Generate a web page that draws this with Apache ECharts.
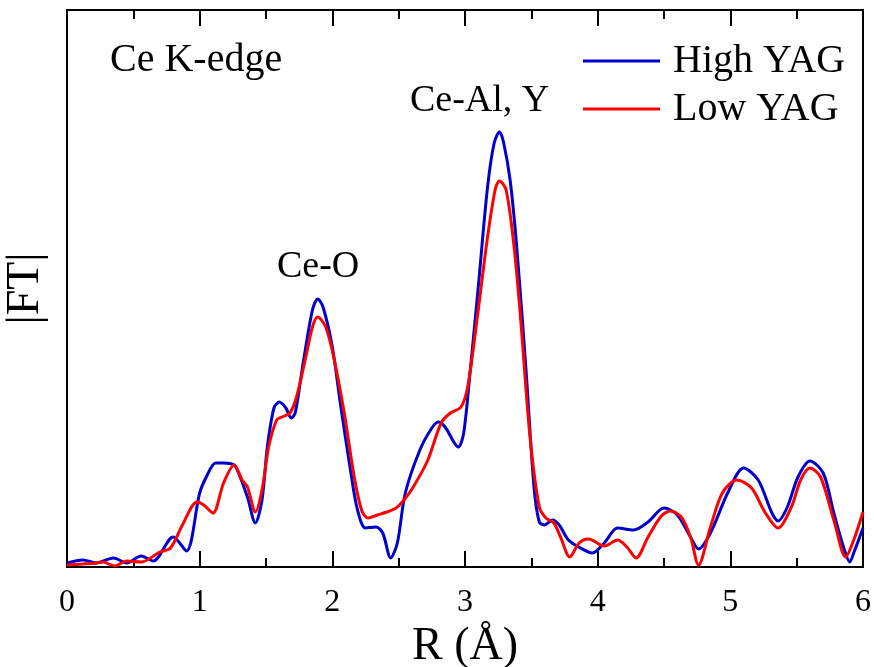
<!DOCTYPE html>
<html>
<head>
<meta charset="utf-8">
<script src="https://cdn.jsdelivr.net/npm/echarts@6/dist/echarts.min.js"></script>
<style>
  html, body { margin: 0; padding: 0; background: #fff; }
  #chart { width: 874px; height: 667px; }
</style>
</head>
<body>
<div id="chart"></div>
<script>
// R (Å) 与 |FT| 读数
var highR = [0.00, 0.12, 0.22, 0.35, 0.45, 0.56, 0.65, 0.80, 0.90, 1.00, 1.05, 1.12, 1.18, 1.26, 1.29, 1.36, 1.42, 1.47, 1.51, 1.56, 1.60, 1.65, 1.69, 1.72, 1.78, 1.85, 1.89, 1.93, 2.00, 2.06, 2.14, 2.19, 2.25, 2.33, 2.38, 2.44, 2.49, 2.55, 2.66, 2.75, 2.80, 2.85, 2.92, 2.95, 2.99, 3.04, 3.10, 3.17, 3.22, 3.26, 3.29, 3.34, 3.39, 3.46, 3.52, 3.56, 3.60, 3.66, 3.71, 3.78, 3.87, 3.96, 4.05, 4.15, 4.27, 4.38, 4.50, 4.60, 4.70, 4.76, 4.85, 4.98, 5.10, 5.21, 5.31, 5.36, 5.43, 5.51, 5.60, 5.70, 5.78, 5.86, 5.90, 5.93, 6.00];
var highFT = [0.04, 0.07, 0.04, 0.09, 0.04, 0.11, 0.06, 0.30, 0.16, 0.74, 0.90, 1.04, 1.04, 1.02, 0.95, 0.70, 0.44, 0.67, 1.20, 1.59, 1.65, 1.59, 1.49, 1.54, 2.04, 2.57, 2.68, 2.60, 2.20, 1.64, 0.94, 0.57, 0.39, 0.40, 0.34, 0.09, 0.24, 0.74, 1.17, 1.39, 1.45, 1.40, 1.24, 1.20, 1.34, 1.97, 2.80, 3.80, 4.24, 4.35, 4.25, 3.87, 3.20, 1.97, 0.80, 0.45, 0.42, 0.47, 0.42, 0.27, 0.19, 0.14, 0.24, 0.39, 0.37, 0.45, 0.59, 0.52, 0.30, 0.18, 0.34, 0.74, 0.99, 0.87, 0.55, 0.46, 0.60, 0.90, 1.06, 0.94, 0.54, 0.17, 0.05, 0.14, 0.39];
var lowR = [0.00, 0.12, 0.22, 0.27, 0.36, 0.45, 0.56, 0.70, 0.78, 0.87, 0.98, 1.03, 1.10, 1.18, 1.26, 1.32, 1.36, 1.42, 1.47, 1.52, 1.58, 1.62, 1.68, 1.73, 1.80, 1.85, 1.89, 1.95, 2.01, 2.09, 2.16, 2.22, 2.27, 2.34, 2.41, 2.48, 2.54, 2.61, 2.72, 2.82, 2.89, 2.97, 3.02, 3.09, 3.17, 3.23, 3.26, 3.31, 3.37, 3.42, 3.49, 3.56, 3.61, 3.67, 3.72, 3.79, 3.86, 3.93, 4.05, 4.15, 4.22, 4.29, 4.38, 4.48, 4.55, 4.63, 4.70, 4.76, 4.85, 4.94, 5.05, 5.16, 5.26, 5.36, 5.46, 5.53, 5.60, 5.68, 5.78, 5.87, 5.93, 6.00];
var lowFT = [0.02, 0.03, 0.04, 0.05, 0.01, 0.06, 0.05, 0.15, 0.19, 0.42, 0.65, 0.62, 0.54, 0.84, 1.02, 0.87, 0.80, 0.55, 0.77, 1.20, 1.47, 1.50, 1.54, 1.70, 2.10, 2.40, 2.50, 2.40, 2.10, 1.54, 0.94, 0.57, 0.49, 0.52, 0.55, 0.59, 0.67, 0.80, 1.07, 1.44, 1.54, 1.60, 1.80, 2.47, 3.30, 3.79, 3.86, 3.77, 3.20, 2.47, 1.30, 0.60, 0.49, 0.44, 0.30, 0.10, 0.24, 0.28, 0.21, 0.27, 0.20, 0.09, 0.30, 0.51, 0.56, 0.50, 0.30, 0.02, 0.40, 0.74, 0.87, 0.79, 0.55, 0.39, 0.60, 0.87, 0.99, 0.90, 0.47, 0.10, 0.27, 0.55];

var xTicks = ['0', '1', '2', '3', '4', '5', '6'];

function pairs(xs, ys) {
  var out = [];
  for (var i = 0; i < xs.length; i++) out.push([xs[i], ys[i]]);
  return out;
}

var font = '"Liberation Serif", "Times New Roman", serif';
var chart = echarts.init(document.getElementById('chart'));

var tickStyle = { color: '#000', width: 2 };

var option = {
  backgroundColor: '#fff',
  animation: false,
  // 右边框用 grid 边框画（只留一根 y 轴，刻度才正常）
  grid: {
    left: 67, right: 11, top: 10, bottom: 100,
    containLabel: false, outerBoundsMode: 'none',
    show: true, borderColor: '#000', borderWidth: 2, backgroundColor: 'transparent'
  },
  legend: {
    orient: 'vertical',
    left: 578,
    top: 36,
    icon: 'rect',
    itemWidth: 77,
    itemHeight: 3,
    itemGap: 8,
    textStyle: { fontFamily: font, fontSize: 40, color: '#000', padding: [0, 0, 0, 8] },
    data: ['High YAG', 'Low YAG']
  },
  xAxis: [{
    type: 'value',
    min: 0,
    max: 6,
    interval: 1,
    name: 'R (Å)',
    nameLocation: 'middle',
    nameGap: 48,
    nameTextStyle: { fontFamily: font, fontSize: 46, color: '#000' },
    axisLine: { show: true, lineStyle: tickStyle },
    axisTick: { show: true, inside: true, length: 16, lineStyle: tickStyle },
    minorTick: { show: true, splitNumber: 2, length: 9, lineStyle: tickStyle },
    axisLabel: {
      margin: 20,
      fontFamily: font,
      fontSize: 32,
      color: '#000',
      formatter: function (v) { return xTicks[Math.round(v)]; }
    },
    splitLine: { show: false }
  }, {
    // 上边框刻度
    type: 'value',
    position: 'top',
    min: 0,
    max: 6,
    interval: 1,
    axisLine: { show: true, lineStyle: tickStyle },
    axisTick: { show: true, inside: true, length: 16, lineStyle: tickStyle },
    minorTick: { show: true, splitNumber: 2, length: 9, lineStyle: tickStyle },
    axisLabel: { show: false },
    splitLine: { show: false }
  }],
  yAxis: {
    type: 'value',
    min: 0,
    max: 5.57,
    name: '|FT|',
    nameLocation: 'middle',
    nameRotate: 90,
    nameGap: 18,
    nameTextStyle: { fontFamily: font, fontSize: 46, color: '#000' },
    axisLine: { show: true, lineStyle: tickStyle },
    axisTick: { show: false },
    axisLabel: { show: false },
    splitLine: { show: false }
  },
  graphic: [
    { type: 'text', left: 110, top: 40, style: { text: 'Ce K-edge', font: '40px ' + font, fill: '#000' } },
    { type: 'text', left: 277, top: 248, style: { text: 'Ce-O', font: '38px ' + font, fill: '#000' } },
    { type: 'text', left: 410, top: 82, style: { text: 'Ce-Al, Y', font: '38px ' + font, fill: '#000' } }
  ],
  series: [{
    name: 'High YAG',
    type: 'line',
    data: pairs(highR, highFT),
    showSymbol: false,
    symbol: 'none',
    smooth: 0.3,
    lineStyle: { color: '#0000cc', width: 3 },
    itemStyle: { color: '#0000cc' }
  }, {
    name: 'Low YAG',
    type: 'line',
    data: pairs(lowR, lowFT),
    showSymbol: false,
    symbol: 'none',
    smooth: 0.3,
    lineStyle: { color: '#ff0000', width: 3 },
    itemStyle: { color: '#ff0000' }
  }]
};
chart.setOption(option);
</script>
</body>
</html>
